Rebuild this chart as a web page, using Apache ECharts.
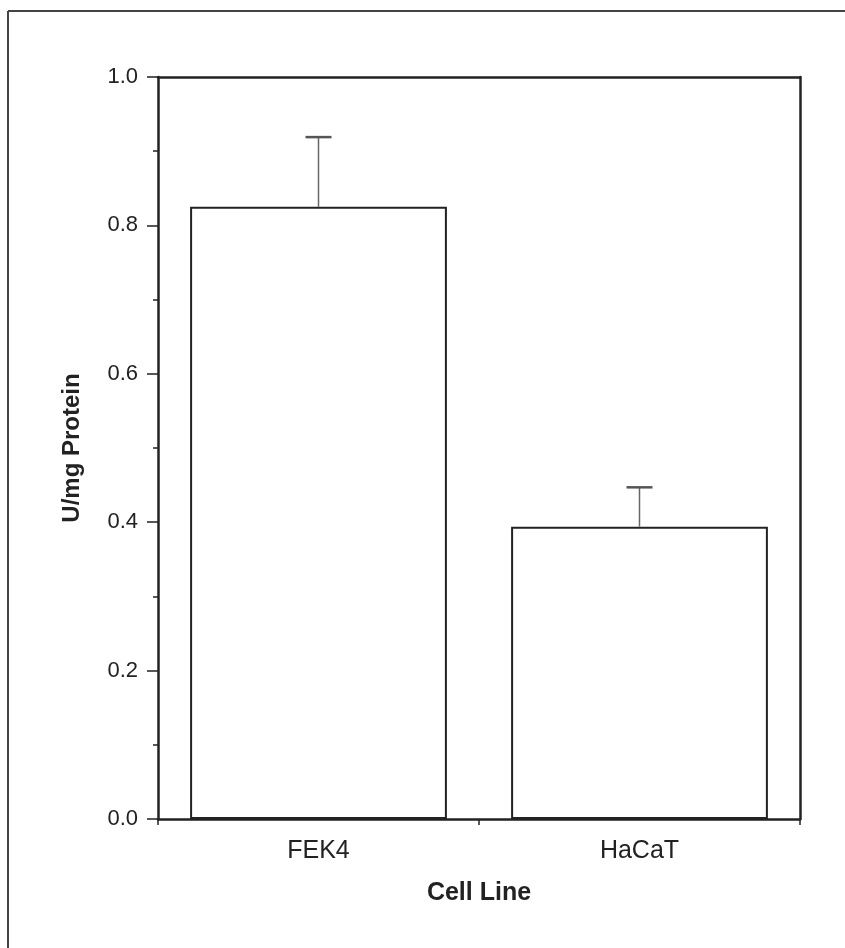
<!DOCTYPE html>
<html>
<head>
<meta charset="utf-8">
<script src="https://cdn.jsdelivr.net/npm/echarts@6/dist/echarts.min.js"></script>
<style>html,body{margin:0;padding:0;background:#fff;}#c{width:845px;height:948px;}</style>
</head>
<body>
<div id="c"></div>
<script>
const categories = ['FEK4', 'HaCaT'];
const values = [0.825, 0.394];
const errUpper = [0.919, 0.447];
const yTicks = [0, 0.2, 0.4, 0.6, 0.8, 1.0];

const chart = echarts.init(document.getElementById('c'), null, {renderer: 'canvas'});
const font = 'Liberation Sans, Arial, sans-serif';
const dark = '#222222';
const option = {
  backgroundColor: '#ffffff',
  animation: false,
  grid: {left: 158, right: 45, top: 77, bottom: 129, containLabel: false},
  xAxis: [{
    type: 'category', data: categories, boundaryGap: true,
    axisLine: {onZero: false, lineStyle: {color: dark, width: 2.5}},
    axisTick: {show: true, length: 6, interval: 0, lineStyle: {color: dark, width: 1.5}},
    axisLabel: {fontSize: 25, color: dark, fontFamily: font, margin: 20},
    name: 'Cell Line', nameLocation: 'middle', nameGap: 62,
    nameTextStyle: {fontSize: 25, fontWeight: 'bold', color: dark, fontFamily: font},
    splitLine: {show: false}
  }, {
    type: 'category', data: categories, position: 'top',
    axisLine: {show: true, onZero: false, lineStyle: {color: dark, width: 2.5}},
    axisTick: {show: false}, axisLabel: {show: false}, splitLine: {show: false}
  }],
  yAxis: [{
    type: 'value', min: 0, max: 1, interval: 0.2,
    axisLine: {show: true, onZero: false, lineStyle: {color: dark, width: 2.5}},
    axisTick: {show: true, length: 11, lineStyle: {color: dark, width: 1.5}},
    minorTick: {show: true, splitNumber: 2, length: 5, lineStyle: {color: dark, width: 1.5}},
    axisLabel: {fontSize: 22, color: dark, fontFamily: font, margin: 20,
      formatter: v => v.toFixed(1)},
    splitLine: {show: false},
    name: 'U/mg Protein', nameLocation: 'middle', nameGap: 74,
    nameTextStyle: {fontSize: 24, fontWeight: 'bold', color: dark, fontFamily: font}
  }, {
    type: 'value', min: 0, max: 1, position: 'right',
    axisLine: {show: true, onZero: false, lineStyle: {color: dark, width: 2.5}},
    axisTick: {show: false}, axisLabel: {show: false}, splitLine: {show: false}
  }],
  series: [{
    type: 'bar', data: values, barCategoryGap: '20%',
    itemStyle: {color: '#ffffff', borderColor: dark, borderWidth: 2},
    z: 2
  }, {
    type: 'custom',
    data: categories.map((c, i) => [i, values[i], errUpper[i]]),
    renderItem: function (params, api) {
      const base = api.coord([api.value(0), api.value(1)]);
      const top = api.coord([api.value(0), api.value(2)]);
      const hw = 13;
      return {
        type: 'group',
        children: [
          {type: 'line', shape: {x1: base[0], y1: base[1], x2: top[0], y2: top[1]},
           style: {stroke: '#666', lineWidth: 1.5}},
          {type: 'line', shape: {x1: top[0] - hw, y1: top[1], x2: top[0] + hw, y2: top[1]},
           style: {stroke: '#555', lineWidth: 2.5}}
        ]
      };
    },
    z: 3
  }],
  graphic: [
    {type: 'line', shape: {x1: 8, y1: 11, x2: 845, y2: 11}, style: {stroke: '#444', lineWidth: 2}},
    {type: 'line', shape: {x1: 8, y1: 11, x2: 8, y2: 948}, style: {stroke: '#444', lineWidth: 2}}
  ]
};
chart.setOption(option);
</script>
</body>
</html>
